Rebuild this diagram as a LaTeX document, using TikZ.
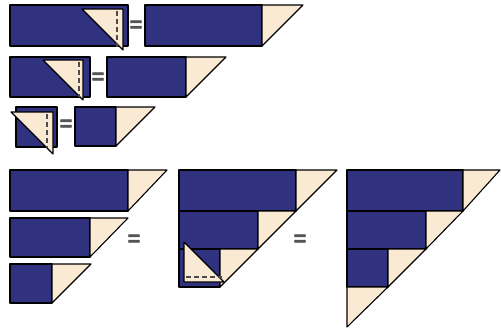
\documentclass[tikz,border=0pt]{standalone}
\usepackage{fontspec}
\setmainfont{Liberation Sans}
\newfontfamily\eqfont[FakeBold=2.5]{Liberation Sans Bold}
\definecolor{navy}{RGB}{48,50,128}
\definecolor{cream}{RGB}{250,233,211}
\definecolor{eqgray}{RGB}{85,85,85}
\begin{document}
\begin{tikzpicture}[x=1pt,y=-1pt,
  fab/.style={fill=navy,draw=black,line width=1.3pt,line join=round},
  lite/.style={fill=cream,draw=black,line width=1.1pt,line join=round},
  seam/.style={draw=black!70,line width=1.8pt,dash pattern=on 5pt off 3pt},
  eqsign/.style={text=eqgray,font=\fontsize{21}{21}\eqfont,inner sep=0pt}]
\useasboundingbox (0,0) rectangle (501,330);
% ---------- row 1 ----------
\draw[fab] (10,5) rectangle (128,46);
\draw[lite] (82,9) -- (123,9) -- (123,50) -- cycle;
\draw[seam] (117,11) -- (117,47);
\node[eqsign] (eq1) at (136,26) {=};
\draw[fab] (145,5) rectangle (262,46);
\draw[lite] (262,5) -- (303,5) -- (262,46) -- cycle;
% ---------- row 2 ----------
\draw[fab] (10,57) rectangle (90,97);
\draw[lite] (43,60) -- (83,60) -- (83,100) -- cycle;
\draw[seam] (79,62) -- (79,97);
\node[eqsign] (eq2) at (98,78) {=};
\draw[fab] (107,57) rectangle (186,97);
\draw[lite] (186,57) -- (226,57) -- (186,97) -- cycle;
% ---------- row 3 ----------
\draw[fab] (16,107) rectangle (57,147);
\draw[lite] (11,112) -- (53,112) -- (53,154) -- cycle;
\draw[seam] (47,114) -- (47,148);
\node[eqsign] (eq3) at (66,125) {=};
\draw[fab] (75,107) rectangle (116,146);
\draw[lite] (116,107) -- (155,107) -- (116,146) -- cycle;
% ---------- bottom left strips ----------
\draw[fab] (10,170) rectangle (128,211);
\draw[lite] (128,170) -- (167,170) -- (128,211) -- cycle;
\draw[fab] (10,218) rectangle (90,257);
\draw[lite] (90,218) -- (128,218) -- (90,257) -- cycle;
\draw[fab] (10,264) rectangle (52,303);
\draw[lite] (52,264) -- (91,264) -- (52,303) -- cycle;
\node[eqsign] (eq4) at (134,240) {=};
% ---------- middle staircase ----------
\draw[fab] (179,170) rectangle (296,211);
\draw[lite] (296,170) -- (337,170) -- (296,211) -- cycle;
\draw[fab] (179,211) rectangle (258,249);
\draw[lite] (258,211) -- (296,211) -- (258,249) -- cycle;
\draw[fab] (179,249) rectangle (220,287);
\draw[lite] (220,249) -- (258,249) -- (220,287) -- cycle;
\draw[lite] (184,242) -- (184,282) -- (224,282) -- cycle;
\draw[seam] (186,277) -- (222,277);
\node[eqsign] (eq5) at (300,240) {=};
% ---------- right finished triangle ----------
\draw[fab] (347,170) rectangle (463,211);
\draw[lite] (463,170) -- (500,170) -- (463,211) -- cycle;
\draw[fab] (347,211) rectangle (426,249);
\draw[lite] (426,211) -- (463,211) -- (426,249) -- cycle;
\draw[fab] (347,249) rectangle (388,287);
\draw[lite] (388,249) -- (426,249) -- (388,287) -- cycle;
\draw[lite] (347,287) -- (388,287) -- (347,327) -- cycle;
\end{tikzpicture}
\end{document}
